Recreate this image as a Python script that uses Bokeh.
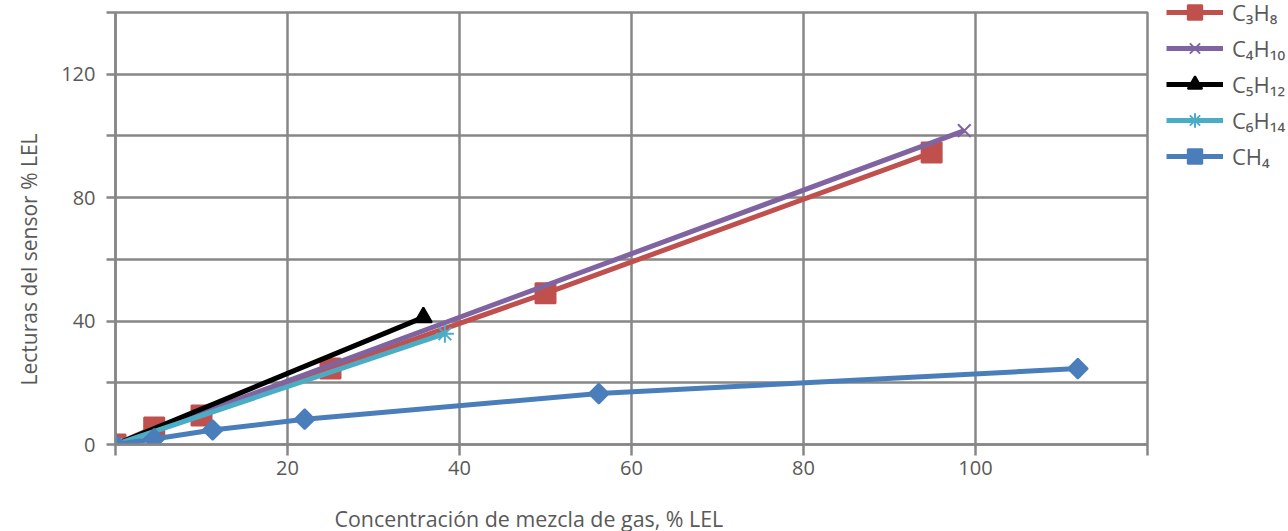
import math
from bokeh.plotting import figure
from bokeh.models import FixedTicker, Legend, LegendItem, Title, Range1d
from bokeh.embed import file_html
from bokeh.resources import INLINE

# ---- data ----
c3h8_x = [0, 4.5, 10, 25, 50, 94.9]
c3h8_y = [0, 5.5, 9.4, 24.6, 49, 94.6]
c4h10_x = [0, 98.7]
c4h10_y = [0, 101.7]
c5h12_x = [0, 35.8]
c5h12_y = [0, 41.2]
c6h14_x = [0, 38.3]
c6h14_y = [0, 35.9]
ch4_x = [0, 4.5, 11.3, 22.0, 56.2, 111.9]
ch4_y = [0, 1.8, 4.7, 8.2, 16.5, 24.6]

series_names = ["C₃H₈", "C₄H₁₀", "C₅H₁₂", "C₆H₁₄", "CH₄"]
x_ticks = [0, 20, 40, 60, 80, 100, 120]
y_ticks = [0, 20, 40, 60, 80, 100, 120, 140]
x_title = "Concentración de mezcla de gas, % LEL"
y_title = "Lecturas del sensor % LEL"

FONT = "Open Sans"
TXT = "#595959"
GRID = "#878787"

p = figure(frame_width=1032, frame_height=432,
           x_range=Range1d(0, 120), y_range=Range1d(0, 140),
           output_backend="svg", toolbar_location=None,
           min_border_left=114, min_border_right=142,
           min_border_top=12, min_border_bottom=87)
p.background_fill_color = "white"
p.border_fill_color = "white"
p.outline_line_color = GRID
p.outline_line_width = 2.5

p.xaxis.ticker = FixedTicker(ticks=x_ticks)
p.yaxis.ticker = FixedTicker(ticks=y_ticks)
p.xgrid.ticker = FixedTicker(ticks=x_ticks)
p.ygrid.ticker = FixedTicker(ticks=y_ticks)
p.xaxis.major_label_overrides = {0: "", 120: ""}
p.yaxis.major_label_overrides = {20: "", 60: "", 100: "", 140: ""}
for g in (p.xgrid, p.ygrid):
    g.grid_line_color = GRID
    g.grid_line_width = 2.5
for ax in (p.xaxis, p.yaxis):
    ax.axis_line_color = GRID
    ax.axis_line_width = 2.5
    ax.major_tick_line_color = GRID
    ax.major_tick_line_width = 2.5
    ax.major_tick_in = 0
    ax.minor_tick_line_color = None
    ax.major_label_text_font = FONT
    ax.major_label_text_font_size = "20px"
    ax.major_label_text_color = TXT
p.xaxis.major_tick_out = 11
p.yaxis.major_tick_out = 9
p.xaxis.major_label_standoff = 5
p.yaxis.major_label_standoff = 11

colors = ["#C0504D", "#8064A2", "#000000", "#4BACC6", "#4A7EBB"]
xs = [c3h8_x, c4h10_x, c5h12_x, c6h14_x, ch4_x]
ys = [c3h8_y, c4h10_y, c5h12_y, c6h14_y, ch4_y]
markers = ["square", "x", "triangle", "asterisk", "square"]
sizes = [20, 18, 17, 18, 14]
angles = [0, 0, 0, 0, math.pi / 4]

items = []
for name, x, y, c, m, s, a in zip(series_names, xs, ys, colors, markers, sizes, angles):
    r1 = p.line(x, y, line_color=c, line_width=5)
    r2 = p.scatter(x, y, marker=m, size=s, angle=a, fill_color=c, line_color=c, line_width=2)
    items.append(LegendItem(label=name, renderers=[r1, r2]))

legend = Legend(items=items, location=(19, 270), orientation="vertical",
                glyph_width=57, glyph_height=36, label_height=36,
                spacing=0, padding=0, margin=0, label_standoff=9,
                label_text_font=FONT, label_text_font_size="22px",
                label_text_color=TXT, border_line_color=None,
                background_fill_alpha=0)
p.add_layout(legend, "right")

p.add_layout(Title(text=x_title, align="left", offset=219, standoff=49,
                   text_font=FONT, text_font_size="21.4px", text_color=TXT,
                   text_font_style="normal"), "below")
p.add_layout(Title(text=y_title, align="left", offset=59, standoff=28,
                   vertical_align="top",
                   text_font=FONT, text_font_size="21px", text_color=TXT,
                   text_font_style="normal"), "left")

open("out.html", "w").write(file_html(p, INLINE))
